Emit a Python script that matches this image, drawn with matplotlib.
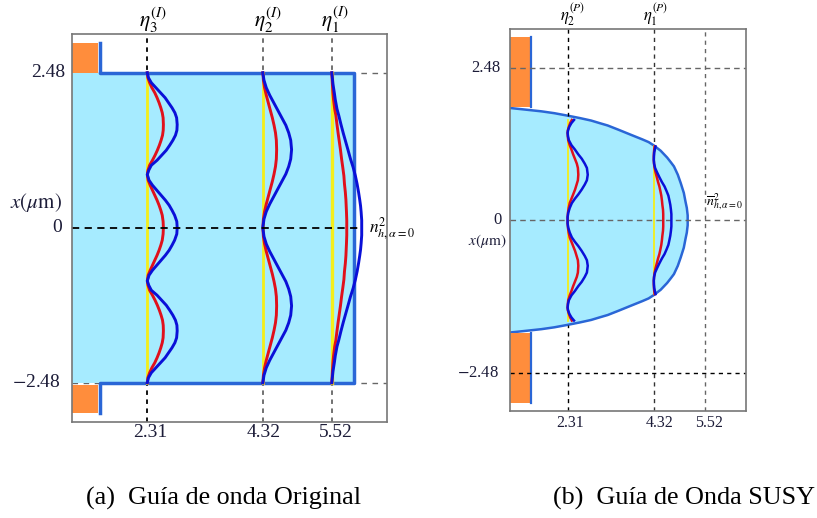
import numpy as np
import matplotlib
matplotlib.use("Agg")
from matplotlib import pyplot as plt

plt.rcParams['font.family'] = ['Liberation Serif', 'DejaVu Serif']
plt.rcParams['mathtext.fontset'] = 'stix'

W, H = 817, 518

# modes, left panel (upper half, mirrored below): x position, blue and red offset from eta
eta_left = [2.31, 4.32, 5.52]
eta_right = [2.31, 4.32]
extra_right = 5.52
edge = 2.48

y3 = [2.48, 2.40, 2.32, 2.24, 2.16, 2.08, 2.00, 1.92, 1.84, 1.76, 1.65, 1.56, 1.48, 1.40, 1.32, 1.24,
      1.16, 1.08, 1.00, 0.92, 0.85, 0.76, 0.68, 0.60, 0.52, 0.44, 0.36, 0.28, 0.20, 0.10, 0.0]
blue3 = [0, .02, .07, .15, .23, .31, .37, .43, .48, .51, .52, .515, .49, .445, .39, .33,
         .25, .17, .07, .025, 0, .03, .09, .165, .24, .315, .38, .43, .475, .513, .52]
red3 = [0, .01, .04, .08, .13, .17, .205, .235, .26, .275, .28, .277, .265, .24, .21, .175,
        .135, .09, .04, .012, 0, .015, .05, .09, .13, .17, .205, .235, .26, .275, .28]

y2 = [2.48, 2.36, 2.24, 2.12, 2.00, 1.88, 1.76, 1.64, 1.52, 1.40, 1.25,
      1.10, .98, .86, .74, .62, .50, .38, .26, .14, 0]
blue2 = [0, .02, .06, .12, .19, .26, .33, .40, .45, .485, .50,
         .485, .45, .40, .33, .26, .19, .12, .06, .02, 0]
red2 = [0, .01, .03, .06, .095, .13, .165, .195, .22, .235, .24,
        .235, .22, .195, .165, .13, .095, .06, .03, .01, 0]

y1 = [2.48, 2.3, 2.15, 2.05, 1.9, 1.8, 1.65, 1.51, 1.38, 1.25, 1.1, .97, .83, .7, .57, .45, .35, .25, .12, 0]
blue1 = [0, .02, .045, .06, .09, .12, .16, .20, .24, .28, .325, .37, .41, .44, .465, .485, .5, .51, .52, .52]
red1 = [0, .01, .02, .03, .05, .07, .09, .11, .13, .15, .17, .19, .21, .22, .235, .245, .25, .255, .26, .26]

# modes, right panel
yp2 = [1.63, 1.58, 1.52, 1.46, 1.42, 1.36, 1.3, 1.22, 1.15, 1.07, 1.0, .92, .85, .74, .65, .58, .5, .42,
       .35, .28, .2, .12, .05, 0]
bluep2 = [.15, .09, .04, .01, 0, .01, .03, .09, .17, .25, .33, .40, .45, .47, .45, .40, .33, .25,
          .17, .10, .05, .015, 0, 0]
redp2 = [.1, .06, .03, .005, 0, .005, .015, .05, .09, .13, .17, .215, .24, .25, .24, .21, .175, .13,
         .09, .05, .025, .008, 0, 0]

yp1 = [1.2, 1.15, 1.1, 1.04, .98, .92, .85, .78, .7, .62, .55, .47, .4, .32, .25, .17, .1, 0]
bluep1 = [.04, .025, .01, .003, 0, .008, .03, .075, .13, .19, .25, .30, .34, .365, .385, .40, .41, .41]
redp1 = [.02, .01, .003, 0, 0, .005, .02, .04, .07, .1, .13, .155, .175, .19, .2, .215, .22, .22]

# SUSY potential outline, upper half
prof_x = [0.96, 1.3, 1.7, 2.0, 2.31, 2.6, 2.86, 3.05, 3.245, 3.5, 3.8, 4.05, 4.2, 4.32, 4.48, 4.63,
          4.72, 4.79, 4.88, 4.95, 5.02, 5.06, 5.09, 5.11, 5.11]
prof_y = [1.825, 1.80, 1.77, 1.74, 1.70, 1.66, 1.62, 1.58, 1.54, 1.47, 1.385, 1.315, 1.27, 1.216, 1.13, 1.02,
          0.94, 0.875, 0.74, 0.6, 0.445, 0.3, 0.2, 0.08, 0.0]

FILL = '#a6ebff'
WALL = '#2a66d6'
ORANGE = '#ff8d3c'
BLUE = '#0a10d8'
RED = '#e0101c'
YELLOW = '#f4ee1a'
GRAY = '#666666'
INK = '#1c1c38'


def mirror(y, v):
    y = np.asarray(y, dtype=float)
    v = np.asarray(v, dtype=float)
    return np.concatenate([y, -y[::-1][1:]]), np.concatenate([v, v[::-1][1:]])


def panel(box):
    x0, y0, x1, y1_ = box
    ax = fig.add_axes([x0 / W, 1 - y1_ / H, (x1 - x0) / W, (y1_ - y0) / H])
    ax.set_xticks([])
    ax.set_yticks([])
    for s in ax.spines.values():
        s.set_color('#777777')
        s.set_linewidth(1.2)
        s.set_zorder(6)
    return ax


def mode(ax, eta, y, blue, red, lw, ylw):
    yy, b = mirror(y, blue)
    yy, r = mirror(y, red)
    ax.plot([eta, eta], [yy[0], yy[-1]], color=YELLOW, lw=ylw, zorder=4)
    ax.plot(eta + r, yy, color=RED, lw=lw, zorder=5)
    ax.plot(eta + b, yy, color=BLUE, lw=lw, zorder=5)


def xlabel(ax, x, s, dx, dy, size):
    ax.annotate(s, (x, 0), xycoords=('data', 'axes fraction'), xytext=(dx, dy),
                textcoords='offset pixels', ha='center', va='center', fontsize=size, color=INK)


def ylabel(ax, y, s, px, size):
    ax.annotate(s, (0, y), xycoords=('axes fraction', 'data'), xytext=(px, 0),
                textcoords='offset pixels', ha='right', va='center', fontsize=size, color=INK)


fig = plt.figure(figsize=(W / 100, H / 100), dpi=100)

# left panel
ax = panel((72, 34, 387, 421.5))
ax.set_xlim(1.0, 6.48)
ax.set_ylim(-3.1, 3.1)
ax.fill_between([1.0, 5.91], -edge, edge, color=FILL, lw=0, zorder=2)
ax.plot([1.49, 1.49, 5.91, 5.91, 1.49, 1.49],
        [2.96, edge, edge, -edge, -edge, -2.96], color=WALL, lw=2.5, zorder=3)
ax.fill_between([1.0, 1.45], edge, 2.96, color=ORANGE, lw=0, zorder=3)
ax.fill_between([1.0, 1.45], -2.96, -edge - 0.03, color=ORANGE, lw=0, zorder=3)
for yv in [edge, -edge]:
    ax.axhline(yv, color=GRAY, lw=1, ls=(0, (4, 4)), zorder=1)
ax.plot([1.0, 6.05], [0, 0], color='black', lw=1.3, ls=(0, (4, 3)), zorder=6)
for i, e in enumerate(eta_left):
    ax.axvline(e, color='black' if i == 0 else GRAY, lw=1.3, ls=(0, (2.5, 2.5)), zorder=1)
mode(ax, eta_left[0], y3, blue3, red3, 2.1, 2.0)
mode(ax, eta_left[1], y2, blue2, red2, 2.1, 2.0)
mode(ax, eta_left[2], y1, blue1, red1, 2.1, 2.4)
for e, s, dx in zip(eta_left, ['2.31', '4.32', '5.52'], [3, 1, 4]):
    xlabel(ax, e, s, dx, -11, 14)
ylabel(ax, edge, '2.48', -7, 14)
ylabel(ax, 0, '0', -10, 14)
ylabel(ax, -edge, '$-$2.48', -11, 14)
ylabel(ax, 0.41, r'$x(\mu\mathrm{m})$', -10, 15)
for x, s in zip([153, 268, 335], [r'$\eta_3^{(I)}$', r'$\eta_2^{(I)}$', r'$\eta_1^{(I)}$']):
    fig.text(x / W, 1 - 20 / H, s, ha='center', va='center', fontsize=15.5)
fig.text(369 / W, 1 - 229 / H, r'$n^2_{h,\alpha=0}$', ha='left', va='center', fontsize=12.5)

# right panel
ax = panel((509.7, 29.5, 746, 411))
ax.set_xlim(0.96, 6.47)
ax.set_ylim(-3.1, 3.1)
py, px = mirror(prof_y, prof_x)
ax.fill_betweenx(py, 0.96, px, color=FILL, lw=0, zorder=2)
ax.plot(px, py, color=WALL, lw=1.8, zorder=3)
ax.fill_between([0.96, 1.45], 1.84, 2.97, color=ORANGE, lw=0, zorder=3)
ax.fill_between([0.96, 1.45], -2.97, -1.84, color=ORANGE, lw=0, zorder=3)
ax.plot([1.45, 1.45], [1.84, 2.97], color=WALL, lw=1.6, zorder=3)
ax.plot([1.45, 1.45], [-1.84, -2.97], color=WALL, lw=1.6, zorder=3)
ax.axhline(edge, color=GRAY, lw=1, ls=(0, (4, 3)), zorder=4)
ax.axhline(0, color=GRAY, lw=1, ls=(0, (4, 3)), zorder=4)
ax.axhline(-edge, color='black', lw=1, ls=(0, (3, 3)), zorder=4)
for x, c, stop in zip(eta_right, ['black', '#333333'], [1.7, 1.216]):
    ax.plot([x, x], [3.1, stop], color=c, lw=1, ls=(0, (3, 3)), zorder=4)
    ax.plot([x, x], [-3.1, -stop], color=c, lw=1, ls=(0, (3, 3)), zorder=4)
ax.axvline(extra_right, color=GRAY, lw=1, ls=(0, (3, 3)), zorder=4)
mode(ax, eta_right[0], yp2, bluep2, redp2, 1.8, 1.3)
mode(ax, eta_right[1], yp1, bluep1, redp1, 1.8, 1.3)
for e, s, dx in zip(eta_right + [extra_right], ['2.31', '4.32', '5.52'], [3, 6, 4]):
    xlabel(ax, e, s, dx, -12, 11.5)
ylabel(ax, edge, '2.48', -9, 12)
ylabel(ax, 0, '0', -8, 12)
ylabel(ax, -edge, '$-$2.48', -11, 12)
ylabel(ax, -0.345, r'$x(\mu\mathrm{m})$', -3, 11)
for x, s in zip([573, 656], [r'$\eta_2^{(P)}$', r'$\eta_1^{(P)}$']):
    fig.text(x / W, 1 - 15 / H, s, ha='center', va='center', fontsize=12)
fig.text(706 / W, 1 - 202 / H, r'$\overline{n}^2_{h,\alpha=0}$', ha='left', va='center', fontsize=10)

# captions
fig.text(86 / W, 1 - 498 / H, '(a)  Guía de onda Original', ha='left', va='center', fontsize=18.8)
fig.text(553 / W, 1 - 498 / H, '(b)  Guía de Onda SUSY', ha='left', va='center', fontsize=18.8)

fig.savefig('out.png', dpi=100)
